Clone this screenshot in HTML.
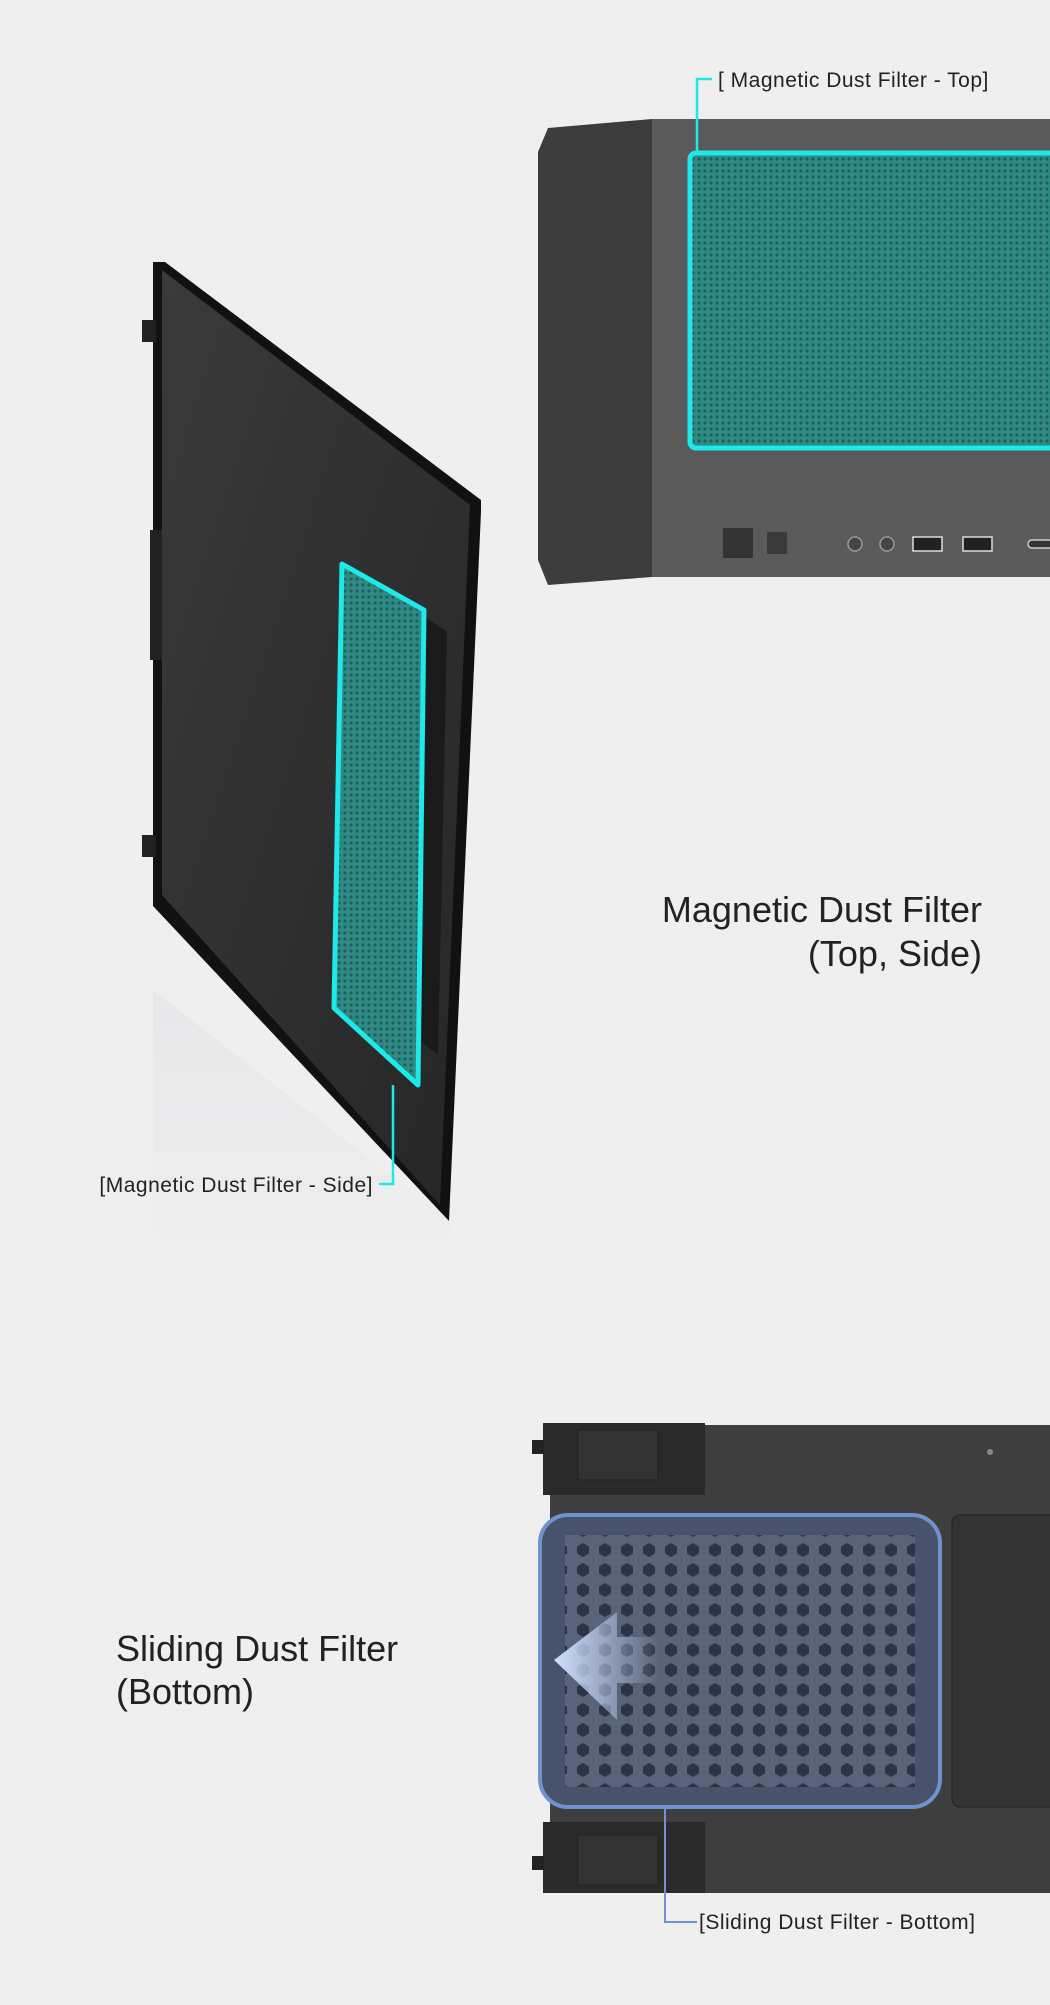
<!DOCTYPE html>
<html><head><meta charset="utf-8"><style>
html,body{margin:0;padding:0;background:#f0eff0;}
body{width:1050px;height:2000px;overflow:hidden;font-family:"Liberation Sans",sans-serif;}
</style></head><body>
<svg width="1050" height="2000" viewBox="0 0 1050 2000" xmlns="http://www.w3.org/2000/svg">
<defs>
<pattern id="mesh" width="6" height="6" patternUnits="userSpaceOnUse">
<rect width="6" height="6" fill="#2f8a84"/><circle cx="3" cy="3" r="1.6" fill="#1f5f5c"/>
</pattern>
<pattern id="hex" width="22" height="20" patternUnits="userSpaceOnUse">
<rect width="22" height="20" fill="#59637a"/><polygon points="11,3 17,6.5 17,13.5 11,17 5,13.5 5,6.5" fill="#2d3445"/>
</pattern>
<linearGradient id="arr" x1="0" x2="1"><stop offset="0" stop-color="#cfe0ff"/><stop offset="1" stop-color="#cfe0ff" stop-opacity="0"/></linearGradient>
<linearGradient id="refl" x1="0" y1="0" x2="0" y2="1"><stop offset="0" stop-color="#e4e4e6"/><stop offset="1" stop-color="#f0eff0"/></linearGradient>
<linearGradient id="panel" x1="0" y1="0" x2="1" y2="1"><stop offset="0" stop-color="#3a3a3a"/><stop offset="1" stop-color="#262626"/></linearGradient>
</defs>

<!-- top case -->
<polygon points="548,128 652,119 652,577 548,585 538,560 538,152" fill="#3c3c3c"/>
<rect x="652" y="119" width="400" height="458" fill="#5a5a5a"/>
<rect x="690" y="153" width="370" height="295" fill="url(#mesh)"/>
<rect x="690" y="153" width="370" height="295" rx="6" fill="none" stroke="#1ee8e8" stroke-width="5"/>
<rect x="723" y="528" width="30" height="30" fill="#333"/>
<rect x="767" y="532" width="20" height="22" fill="#3a3a3a"/>
<circle cx="855" cy="544" r="7" fill="#444" stroke="#999" stroke-width="1.5"/>
<circle cx="887" cy="544" r="7" fill="#444" stroke="#999" stroke-width="1.5"/>
<rect x="913" y="537" width="29" height="14" fill="#222" stroke="#ddd" stroke-width="1.5"/>
<rect x="963" y="537" width="29" height="14" fill="#222" stroke="#ddd" stroke-width="1.5"/>
<rect x="1028" y="540" width="25" height="8" rx="4" fill="#333" stroke="#ccc" stroke-width="1.5"/>
<polyline points="697,153 697,79 712,79" fill="none" stroke="#1ee8e8" stroke-width="2.5"/>
<text x="718" y="87" font-size="21" fill="#222" letter-spacing="0.5">[ Magnetic Dust Filter - Top]</text>

<!-- side panel -->
<polygon points="153,990 449,1221 470,1300 153,1300" fill="url(#refl)" opacity="0.7"/>
<polygon points="153,262 165,262 481,500 481,512 449,1221 153,906" fill="#111"/>
<polygon points="162,270 470,505 440,1205 162,895" fill="url(#panel)"/>
<rect x="150" y="530" width="12" height="130" fill="#222"/>
<rect x="142" y="320" width="14" height="22" fill="#222"/>
<rect x="142" y="835" width="14" height="22" fill="#222"/>
<polygon points="375,582 447,632 438,1055 368,1000" fill="#1a1a1a"/>
<polygon points="342,564 424,610 418,1085 334,1008" fill="url(#mesh)" stroke="#1ee8e8" stroke-width="5" stroke-linejoin="round"/>
<polyline points="393,1085 393,1184 379,1184" fill="none" stroke="#1ee8e8" stroke-width="2.5"/>
<text x="373" y="1192" font-size="21" fill="#222" text-anchor="end" letter-spacing="0.5">[Magnetic Dust Filter - Side]</text>

<text x="982" y="922" font-size="36" fill="#222" text-anchor="end">Magnetic Dust Filter</text>
<text x="982" y="966" font-size="36" fill="#222" text-anchor="end">(Top, Side)</text>

<text x="116" y="1661" font-size="36" fill="#222">Sliding Dust Filter</text>
<text x="116" y="1704" font-size="36" fill="#222">(Bottom)</text>

<!-- bottom case -->
<rect x="550" y="1425" width="500" height="468" fill="#3e3e3e"/>
<rect x="543" y="1423" width="162" height="72" fill="#2a2a2a"/>
<rect x="578" y="1430" width="80" height="50" fill="#333" stroke="#222"/>
<rect x="543" y="1822" width="162" height="71" fill="#2a2a2a"/>
<rect x="578" y="1835" width="80" height="50" fill="#333" stroke="#222"/>
<rect x="532" y="1440" width="12" height="14" fill="#222"/>
<rect x="532" y="1856" width="12" height="14" fill="#222"/>
<circle cx="990" cy="1452" r="3" fill="#888"/>
<rect x="952" y="1515" width="110" height="292" rx="8" fill="#333" stroke="#222"/>
<rect x="540" y="1515" width="400" height="292" rx="28" fill="#48526a"/>
<rect x="565" y="1535" width="350" height="252" fill="url(#hex)"/>
<polygon points="554,1660 617,1612 617,1637 660,1637 660,1683 617,1683 617,1720" fill="url(#arr)"/>
<rect x="540" y="1515" width="400" height="292" rx="28" fill="none" stroke="#6f93cf" stroke-width="4"/>
<polyline points="665,1807 665,1922 697,1922" fill="none" stroke="#6f93cf" stroke-width="2"/>
<text x="699" y="1929" font-size="21" fill="#222" letter-spacing="0.5">[Sliding Dust Filter - Bottom]</text>
</svg>
</body></html>
